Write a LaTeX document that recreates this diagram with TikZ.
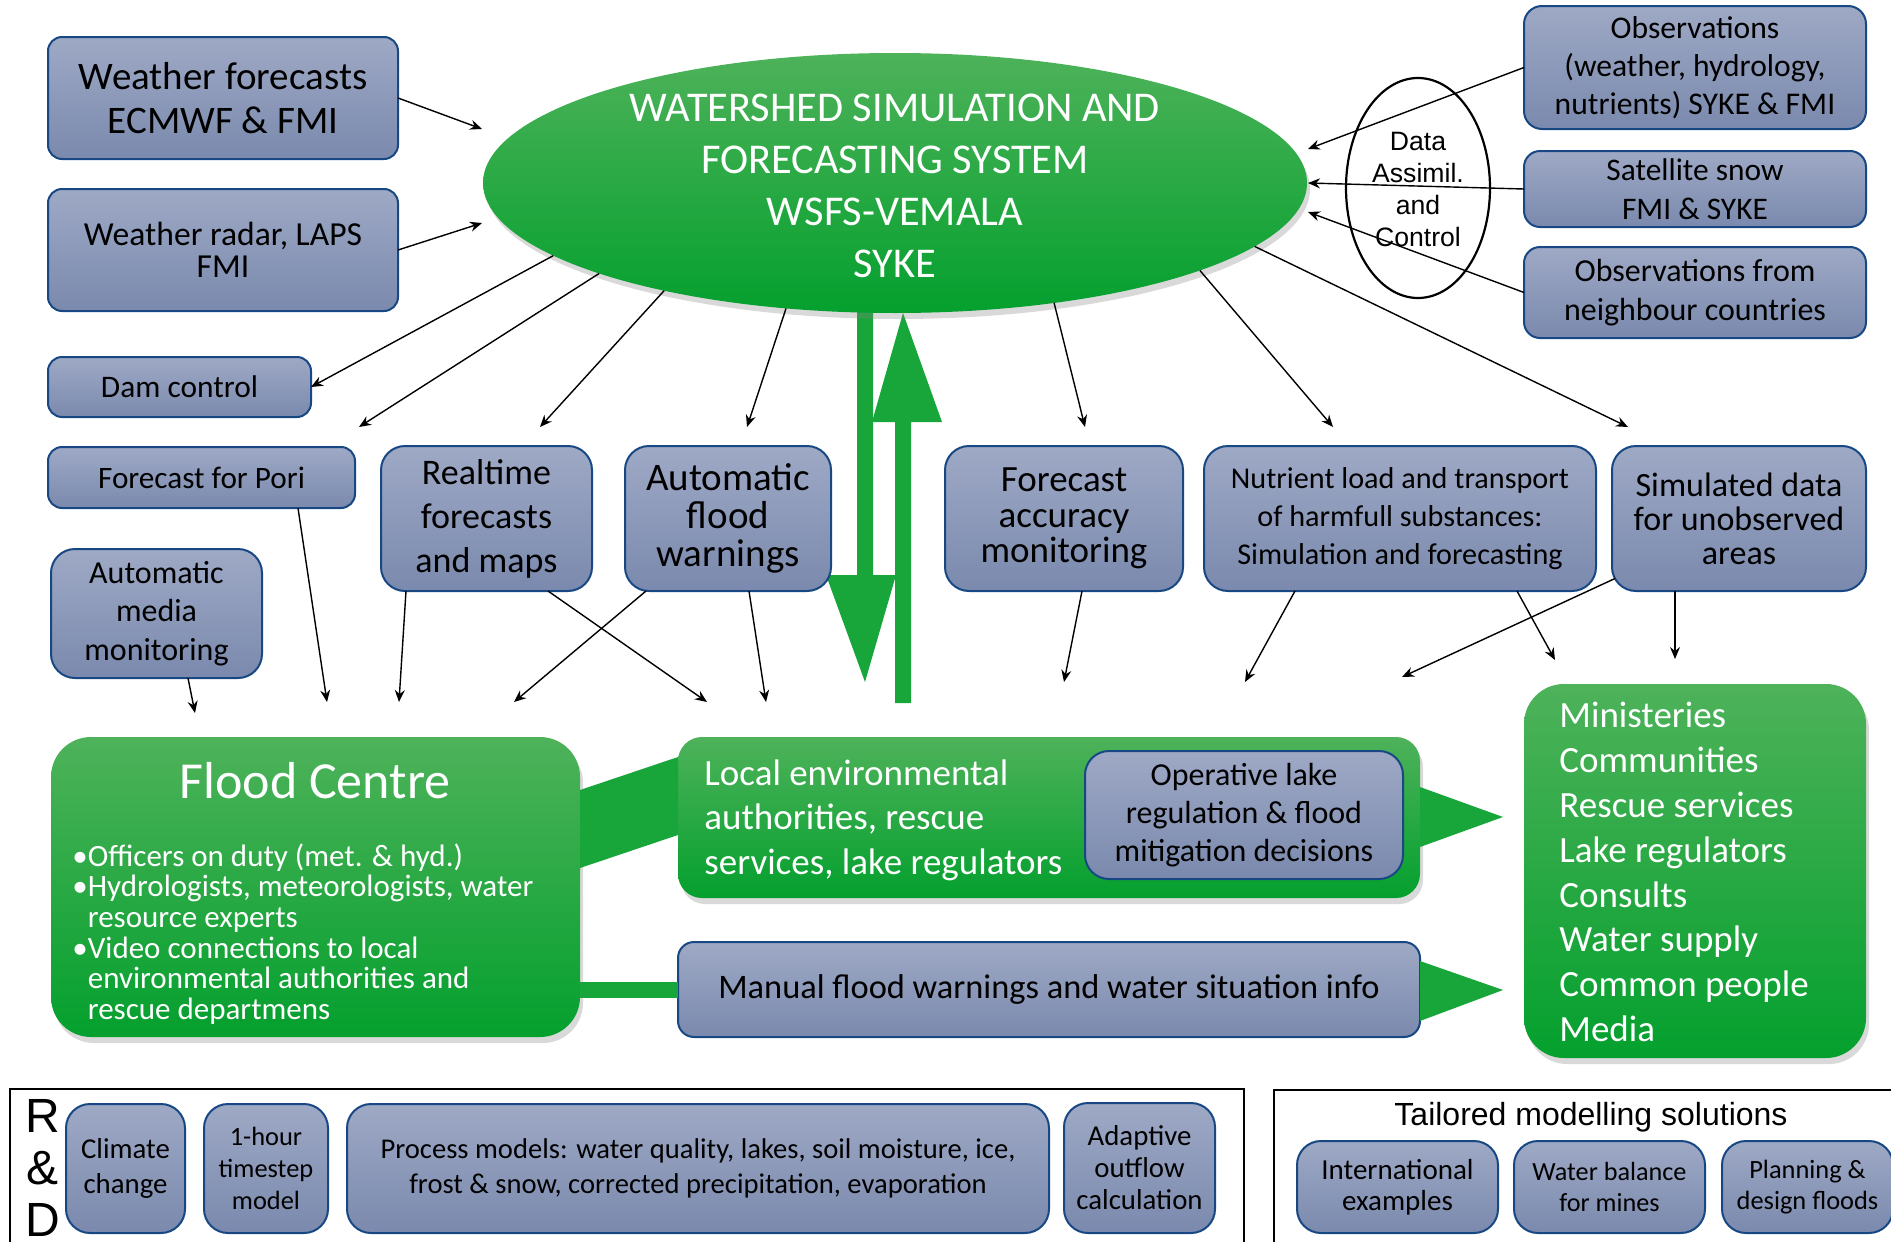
\documentclass[tikz,border=0pt]{standalone}
\usepackage{fontspec}
\setmainfont{Carlito}
\newfontfamily\arialf{Liberation Sans}
\usetikzlibrary{arrows.meta,shapes.geometric,shadows}
\definecolor{blutop}{RGB}{158,169,197}
\definecolor{blubot}{RGB}{122,137,173}
\definecolor{bluedge}{RGB}{24,72,132}
\definecolor{gtop}{RGB}{78,178,90}
\definecolor{gbot}{RGB}{4,160,46}
\definecolor{garr}{RGB}{24,166,58}
\newcommand{\fs}[2]{\fontsize{#1}{#2}\selectfont}
\newcommand{\bx}[7]{\node[#6, minimum width={(#4-#2)*0.5pt}, minimum height={(#5-#3)*0.5pt}] (#1) at ({(#2+#4)/2},{(#3+#5)/2}) {#7};}
\begin{document}
\begin{tikzpicture}[x=0.5pt,y=-0.5pt,
 blu/.style={draw=bluedge, line width=1pt, top color=blutop, bottom color=blubot, inner sep=0pt, outer sep=0pt, align=center, rounded corners=#1},
 blu/.default=8pt,
 gre/.style={top color=gtop, bottom color=gbot, inner sep=0pt, outer sep=0pt, rounded corners=#1, drop shadow={shadow xshift=1.5pt, shadow yshift=-3pt, opacity=0.3}},
 gre/.default=18pt,
 arr/.style={-{Stealth[length=6pt,width=5pt,inset=2pt]}, line width=0.7pt},
 wt/.style={text=white, inner sep=0pt, align=left},
]
\useasboundingbox (0,0) rectangle (1891,1242);
\clip (0,0) rectangle (1891,1242);

% green block arrows
\fill[garr] (857,300) -- (857,575) -- (826,575) -- (865,682) -- (896,575) -- (873,575) -- (873,300) -- cycle;
\fill[garr] (895,703) -- (895,422) -- (872,422) -- (903,313) -- (942,422) -- (911,422) -- (911,703) -- cycle;

% main ellipse
\node[ellipse, minimum width=412pt, minimum height=130pt, inner sep=0pt, outer sep=0pt, top color=gtop, bottom color=gbot, drop shadow={shadow xshift=1.5pt, shadow yshift=-3pt, opacity=0.3}] (ell) at (895,183) {};
\node[wt, align=center, font=\fs{21.2}{26}] (ellt) at (895,186) {WATERSHED SIMULATION AND\\FORECASTING SYSTEM\\WSFS-VEMALA\\SYKE};

% data assimilation ellipse
\node[ellipse, draw, line width=1.1pt, minimum width=72pt, minimum height=110pt, inner sep=0pt] (da) at (1418,188) {};
\node[font=\arialf\fs{13.3}{16}, align=center, inner sep=0pt] (dat) at (1418,189) {Data\\Assimil.\\and\\Control};

% blue boxes top
\bx{wf}{48}{37}{398}{159}{blu=7pt,font=\fs{19.5}{21.7}}{Weather forecasts\\ECMWF \& FMI}
\bx{radar}{48}{189}{398}{311}{blu=7pt,font=\fs{16.8}{16.3}}{Weather radar, LAPS\\FMI}
\bx{dam}{48}{357}{311}{417}{blu=7pt,font=\fs{15.7}{18}}{Dam control}
\bx{pori}{48}{447}{355}{508}{blu=7pt,font=\fs{15.6}{18}}{Forecast for Pori}
\bx{media}{51}{549}{262}{678}{blu=12pt,font=\fs{16}{19.3}}{Automatic\\media\\monitoring}
\bx{rt}{381}{446}{592}{591}{blu=12pt,font=\fs{18}{22}}{Realtime\\forecasts\\and maps}
\bx{afw}{625}{446}{831}{591}{blu=12pt,font=\fs{19.5}{19}}{Automatic\\flood\\warnings}
\bx{fa}{945}{446}{1183}{591}{blu=12pt,font=\fs{18.5}{17.8}}{Forecast\\accuracy\\monitoring}
\bx{nut}{1204}{446}{1596}{591}{blu=12pt,font=\fs{15.1}{19}}{Nutrient load and transport\\of harmfull substances:\\Simulation and forecasting}
\bx{sim}{1612}{446}{1866}{591}{blu=12pt,font=\fs{17}{17}}{Simulated data\\for unobserved\\areas}
\bx{obs}{1524}{6}{1866}{129}{blu=9pt,font=\fs{15.8}{19}}{Observations\\(weather, hydrology,\\nutrients) SYKE \& FMI}
\bx{sat}{1524}{151}{1866}{227}{blu=8pt,font=\fs{15.7}{19.3}}{Satellite snow\\FMI \& SYKE}
\bx{nbr}{1524}{247}{1866}{338}{blu=8pt,font=\fs{16}{19.3}}{Observations from\\neighbour countries}

% green boxes
\bx{fc}{51}{737}{580}{1037}{gre=20pt}{}
\node[wt, font=\fs{26}{30}] (fct) at (315,781) {Flood Centre};
\node[wt, anchor=west, font=\fs{15.5}{15.3}] (fcb) at (72,934) {•Officers on duty (met. \& hyd.)\\•Hydrologists, meteorologists, water\\\hphantom{•}resource experts\\•Video connections to local\\\hphantom{•}environmental authorities and\\\hphantom{•}rescue departmens};
\bx{le}{678}{737}{1420}{898}{gre=12pt}{}
\node[wt, anchor=west, font=\fs{18.5}{22.3}] (let) at (704,820) {Local environmental\\authorities, rescue\\services, lake regulators};
\bx{op}{1085}{751}{1403}{879}{blu=12pt,font=\fs{16}{19}}{Operative lake\\regulation \& flood\\mitigation decisions}
\bx{man}{678}{942}{1420}{1037}{blu=8pt,font=\fs{17.2}{20}}{Manual flood warnings and water situation info}
\bx{min}{1524}{684}{1866}{1058}{gre=20pt}{}
\node[wt, anchor=west, font=\fs{18.5}{22.4}] (mint) at (1559,872) {Ministeries\\Communities\\Rescue services\\Lake regulators\\Consults\\Water supply\\Common people\\Media};

% green connectors
\coordinate (t1) at (1503,817);
\coordinate (t2) at (1503,990);
\fill[garr] (fc.east |- 0,790) -- (le.west |- 0,757) -- (le.west |- 0,835) -- (fc.east |- 0,868) -- cycle;
\fill[garr] (fc.east |- 0,982) rectangle (man.west |- 0,998);
\fill[garr] (le.east |- 0,787) -- (t1) -- (le.east |- 0,847) -- cycle;
\fill[garr] (man.east |- 0,961) -- (t2) -- (man.east |- 0,1021) -- cycle;

% free ends
\coordinate (i1) at (482,129);
\coordinate (i2) at (482,223);
\coordinate (i3) at (1308,149);
\coordinate (i4) at (1308,183);
\coordinate (i5) at (1308,212);
\coordinate (e1) at (359,427);
\coordinate (e2) at (540,427);
\coordinate (e3) at (747,427);
\coordinate (e4) at (1085,427);
\coordinate (e5) at (1333,427);
\coordinate (e6) at (1628,427);
\coordinate (d1) at (327,702);
\coordinate (d2) at (195,713);
\coordinate (d3) at (399,702);
\coordinate (d4) at (707,702);
\coordinate (d5) at (514,702);
\coordinate (d6) at (766,702);
\coordinate (d7) at (1064,682);
\coordinate (d8) at (1245,682);
\coordinate (d9) at (1555,660);
\coordinate (d10) at (1402,677);
\coordinate (d11) at (1675,659);

% thin arrows
\draw[arr] (wf.east) -- (i1);
\draw[arr] (radar.east) -- (i2);
\draw[arr] (obs.west) -- (i3);
\draw[arr] (sat.west) -- (i4);
\draw[arr] (nbr.west) -- (i5);
\draw[arr] (ell.192) -- (dam.east);
\draw[arr] (ell.197.5) -- (e1);
\draw[arr] (ell.205.5) -- (e2);
\draw[arr] (ell.229.2) -- (e3);
\draw[arr] (ell.323.3) -- (e4);
\draw[arr] (ell.344.4) -- (e5);
\draw[arr] (ell.350.5) -- (e6);
\draw[arr] ([xshift=48.25pt]pori.south) -- (d1);
\draw[arr] ([xshift=15.75pt]media.south) -- (d2);
\draw[arr] ([xshift=-40.25pt]rt.south) -- (d3);
\draw[arr] ([xshift=30.75pt]rt.south) -- (d4);
\draw[arr] ([xshift=-41pt]afw.south) -- (d5);
\draw[arr] ([xshift=10.5pt]afw.south) -- (d6);
\draw[arr] ([xshift=9pt]fa.south) -- (d7);
\draw[arr] ([xshift=-52.5pt]nut.south) -- (d8);
\draw[arr] ([xshift=58.5pt]nut.south) -- (d9);
\draw[arr] ([xshift=1.5pt,yshift=-30pt]sim.west) -- (d10);
\draw[arr] ([xshift=-32pt]sim.south) -- (d11);

% bottom frames
\draw[line width=1.2pt] (10,1260) -- (10,1089) -- (1244,1089) -- (1244,1260);
\draw[line width=1.2pt] (1274,1260) -- (1274,1090) -- (1900,1090);
\node[font=\arialf\fs{24}{26}, align=center, inner sep=0pt] (rd) at (43,1168) {R\\\&\\D};
\node[font=\arialf\fs{16}{19}, inner sep=0pt] (tms) at (1591,1117) {Tailored modelling solutions};

\bx{cc}{66}{1104}{185}{1233}{blu=12pt,font=\fs{14.4}{17.5}}{Climate\\change}
\bx{oh}{204}{1104}{328}{1233}{blu=12pt,font=\fs{13.2}{16}}{1-hour\\timestep\\model}
\bx{pm}{347}{1104}{1049}{1233}{blu=12pt,font=\fs{14.3}{17.5}}{Process models: water quality, lakes, soil moisture, ice,\\frost \& snow, corrected precipitation, evaporation}
\bx{ad}{1064}{1103}{1215}{1233}{blu=12pt,font=\fs{14.4}{16}}{Adaptive\\outflow\\calculation}
\bx{ie}{1297}{1141}{1498}{1233}{blu=12pt,font=\fs{14.5}{15.7}}{International\\examples}
\bx{wb}{1514}{1141}{1705}{1233}{blu=12pt,font=\fs{13.1}{15.7}}{Water balance\\for mines}
\bx{pl}{1722}{1141}{1893}{1233}{blu=12pt,font=\fs{13.2}{15.7}}{Planning \&\\design floods}
\end{tikzpicture}
\end{document}
